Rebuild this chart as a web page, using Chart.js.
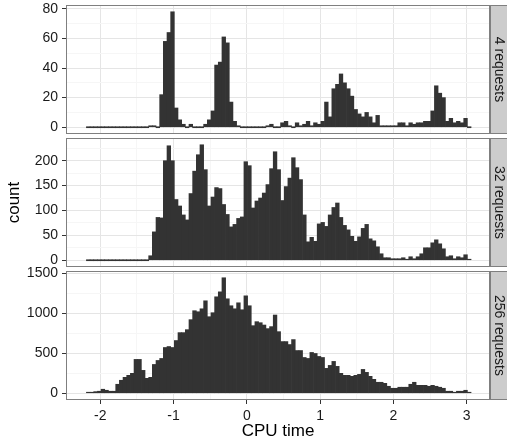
<!DOCTYPE html>
<html><head><meta charset="utf-8">
<script src="https://cdn.jsdelivr.net/npm/chart.js@4/dist/chart.umd.min.js"></script>
<style>
html,body{margin:0;padding:0;background:#fff;}
#wrap{position:relative;width:507px;height:445px;overflow:hidden;}
canvas{position:absolute;left:0;top:0;}
</style></head><body>
<div id="wrap">
<canvas id="c1" width="507" height="445"></canvas>
<canvas id="c2" width="507" height="445"></canvas>
<canvas id="c3" width="507" height="445"></canvas>
</div>
<script>
// ---- data (histogram bins, binwidth 0.05 starting at -2.19) ----
const binStart = -2.19;
const binWidth = 0.05;

const counts4 = [
  0,0,0,0,0,0,0,0,0,0,0,0,0,0,0,0,0,
  1,1,0,22,58,64,78,13,5,2,
  0,2,0,0,0,2,5,11,42,44,
  61,57,17,4,1,0,0,0,0,0,
  0,0,1,2,0,0,3,4,1,0,
  3,1,2,4,1,3,2,4,17,7,
  26,29,36,30,26,21,12,9,7,10,
  7,3,8,1,1,1,1,1,3,3,
  1,3,2,3,3,4,4,11,28,23,
  20,4,6,3,4,3,6,0
];
const counts32 = [
  0,0,0,0,0,0,0,0,0,0,0,0,0,0,0,0,0,
  9,57,86,85,200,230,200,122,109,91,
  81,134,179,212,232,182,109,127,146,144,
  112,92,67,72,84,87,198,190,105,119,
  125,135,152,184,218,182,120,148,165,206,
  186,162,91,37,46,38,73,76,68,91,
  106,115,86,70,61,48,38,47,64,72,
  43,39,27,13,5,5,3,3,3,5,
  1,7,3,7,13,25,25,35,41,33,
  23,7,9,3,7,5,11,1
];
const counts256 = [
  5,12,20,25,50,37,25,25,112,162,
  199,224,249,423,423,286,186,199,360,410,
  435,572,584,572,659,758,758,795,920,1032,
  1019,1056,1156,957,1007,1206,1268,1444,1181,1094,
  1056,1131,1044,1218,1094,845,895,882,853,808,
  833,978,770,646,646,609,671,534,534,447,
  435,510,497,460,447,311,348,398,336,249,
  224,224,211,224,236,298,261,211,174,137,
  137,124,87,62,62,75,75,75,112,137,
  99,99,99,87,99,87,75,62,25,25,
  12,25,25,37,3
];

const panelLabels = ['4 requests', '32 requests', '256 requests'];
const xTickValues = [-2,-1.5,-1,-0.5,0,0.5,1,1.5,2,2.5,3];
const xMajorTicks = [-2,-1,0,1,2,3];
const yTicks4 = [0,10,20,30,40,50,60,70,80];
const yMajor4 = [0,20,40,60,80];
const yTicks32 = [0,25,50,75,100,125,150,175,200,225];
const yMajor32 = [0,50,100,150,200];
const yTicks256 = [0,250,500,750,1000,1250,1500];
const yMajor256 = [0,500,1000,1500];

// ---- drawing ----
Chart.defaults.font.family = '"Liberation Sans", Arial, Helvetica, sans-serif';
const W = 507, H = 445;
const MAJOR = '#E5E5E5', MINOR = '#F6F6F6', BORDER = '#7F7F7F', TXT = '#1a1a1a';

const facetPlugin = {
  id: 'facet',
  afterDraw(chart, args, opts) {
    const {ctx, chartArea: a} = chart;
    ctx.save();
    ctx.strokeStyle = BORDER;
    ctx.lineWidth = 1;
    ctx.strokeRect(a.left - 0.5, a.top - 0.5, a.right - a.left + 1, a.bottom - a.top + 1);
    // strip
    const sx = a.right + 1.5, sw = 20;
    ctx.fillStyle = '#CCCCCC';
    ctx.fillRect(sx, a.top - 0.5, sw, a.bottom - a.top + 1);
    ctx.strokeRect(sx, a.top - 0.5, sw, a.bottom - a.top + 1);
    ctx.translate(a.right + 10, (a.top + a.bottom) / 2);
    ctx.rotate(Math.PI / 2);
    ctx.fillStyle = TXT;
    ctx.font = '14px "Liberation Sans", Arial, sans-serif';
    ctx.textAlign = 'center';
    ctx.textBaseline = 'middle';
    ctx.fillText(opts.label, 0, 0);
    ctx.restore();
  }
};

function makePanel(id, counts, yTicks, yMajor, top, bottom, label, showX, showYTitle) {
  const maxC = Math.max(...counts);
  const data = counts.map((c, i) => ({x: binStart + binWidth * (i + 0.5), y: c}));
  return new Chart(document.getElementById(id), {
    type: 'bar',
    data: {datasets: [{
      data,
      backgroundColor: '#333333',
      borderWidth: 0,
      barPercentage: 1,
      categoryPercentage: 1,
      minBarLength: 1
    }]},
    options: {
      responsive: false,
      animation: false,
      devicePixelRatio: 1,
      layout: {padding: {left: 0, right: W - 489, top: top, bottom: H - bottom - (showX ? 46 : 0)}},
      plugins: {legend: {display: false}, tooltip: {enabled: false}, facet: {label}},
      scales: {
        x: {
          type: 'linear', min: -2.455, max: 3.305, offset: false, position: 'bottom',
          afterBuildTicks: s => { s.ticks = xTickValues.map(v => ({value: v})); },
          afterFit: s => { s.height = showX ? 46 : 0; s.paddingLeft = 0; s.paddingRight = 0; },
          border: {display: false},
          grid: {
            offset: false, lineWidth: 1,
            color: c => (c.tick && xMajorTicks.includes(c.tick.value)) ? MAJOR : MINOR,
            drawTicks: showX, tickLength: 5, tickWidth: 1,
            tickColor: c => (c.tick && xMajorTicks.includes(c.tick.value)) ? '#333333' : 'rgba(0,0,0,0)'
          },
          ticks: {
            display: showX, autoSkip: false, maxRotation: 0, padding: 4, color: TXT,
            font: {size: 14},
            callback: v => xMajorTicks.includes(v) ? String(v) : ''
          },
          title: {display: showX, text: 'CPU time', color: '#000', font: {size: 17}, padding: {top: 0, bottom: 3}}
        },
        y: {
          type: 'linear', min: -0.05 * maxC, max: 1.05 * maxC, position: 'left',
          afterBuildTicks: s => { s.ticks = yTicks.map(v => ({value: v})); },
          afterFit: s => { s.width = 67; s.paddingTop = 0; s.paddingBottom = 0; },
          border: {display: false},
          grid: {
            lineWidth: 1,
            color: c => (c.tick && yMajor.includes(c.tick.value)) ? MAJOR : MINOR,
            drawTicks: true, tickLength: 5, tickWidth: 1,
            tickColor: c => (c.tick && yMajor.includes(c.tick.value)) ? '#333333' : 'rgba(0,0,0,0)'
          },
          ticks: {
            autoSkip: false, padding: 4, color: TXT, font: {size: 14},
            callback: v => yMajor.includes(v) ? String(v) : ''
          },
          title: {display: showYTitle, text: 'count', color: '#000', font: {size: 17}, padding: {top: 4, bottom: 0}}
        }
      }
    },
    plugins: [facetPlugin]
  });
}

makePanel('c1', counts4, yTicks4, yMajor4, 6, 133, panelLabels[0], false, false);
makePanel('c2', counts32, yTicks32, yMajor32, 139, 266, panelLabels[1], false, true);
makePanel('c3', counts256, yTicks256, yMajor256, 272, 399, panelLabels[2], true, false);
</script>
</body></html>
